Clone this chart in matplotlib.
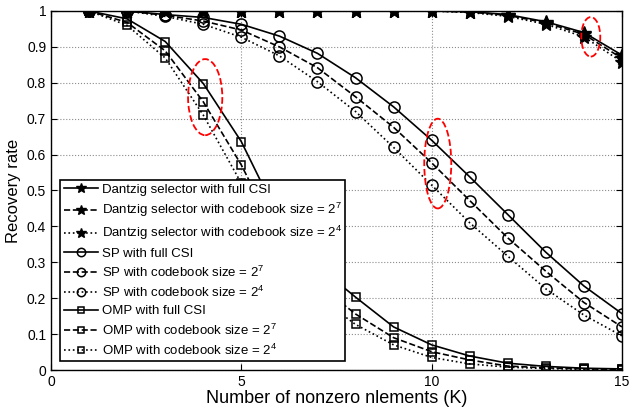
import numpy as np
import matplotlib.pyplot as plt
from matplotlib.patches import Ellipse

plt.rcParams['font.family'] = ['Liberation Sans', 'DejaVu Sans']
plt.rcParams['mathtext.fontset'] = 'custom'
plt.rcParams['mathtext.rm'] = 'Liberation Sans'
plt.rcParams['mathtext.it'] = 'Liberation Sans:italic'

K = np.arange(1, 16)

# Dantzig selector
ds_full = [1, 1, 1, 1, 1, 1, 1, 1, 1, 1, 0.998, 0.99, 0.97, 0.94, 0.877]
ds_cb7 = [1, 1, 1, 1, 1, 1, 1, 1, 1, 1, 0.997, 0.988, 0.967, 0.935, 0.868]
ds_cb4 = [1, 1, 1, 1, 1, 1, 1, 1, 1, 1, 0.996, 0.985, 0.963, 0.928, 0.858]

# subspace pursuit
sp_full = [1, 1, 0.99, 0.982, 0.963, 0.93, 0.882, 0.814, 0.733, 0.64, 0.538, 0.433, 0.328, 0.234, 0.157]
sp_cb7 = [1, 1, 0.988, 0.972, 0.947, 0.90, 0.842, 0.761, 0.676, 0.577, 0.472, 0.368, 0.275, 0.188, 0.12]
sp_cb4 = [1, 1, 0.985, 0.963, 0.927, 0.875, 0.803, 0.72, 0.62, 0.515, 0.41, 0.317, 0.226, 0.153, 0.095]

# OMP
omp_full = [1, 0.978, 0.915, 0.798, 0.636, 0.42, 0.29, 0.203, 0.12, 0.07, 0.039, 0.019, 0.01, 0.005, 0.003]
omp_cb7 = [1, 0.968, 0.889, 0.747, 0.571, 0.36, 0.24, 0.156, 0.09, 0.051, 0.028, 0.011, 0.006, 0.003, 0.002]
omp_cb4 = [1, 0.96, 0.869, 0.71, 0.52, 0.32, 0.205, 0.127, 0.07, 0.035, 0.017, 0.008, 0.004, 0.002, 0.001]

fig = plt.figure(figsize=(6.33, 4.13), dpi=100)
ax = fig.add_axes([0.0806, 0.1041, 0.902, 0.8693])

star = dict(marker='*', markersize=10, markerfacecolor='k', markeredgecolor='k')
circ = dict(marker='o', markersize=8, markerfacecolor='none', markeredgecolor='k', markeredgewidth=1.1)
sq = dict(marker='s', markersize=6, markerfacecolor='none', markeredgecolor='k', markeredgewidth=1.1)

ax.plot(K, ds_full, 'k-', lw=1.2, label='Dantzig selector with full CSI', **star)
ax.plot(K, ds_cb7, 'k--', lw=1.2, label='Dantzig selector with codebook size = $2^7$', **star)
ax.plot(K, ds_cb4, 'k:', lw=1.2, label='Dantzig selector with codebook size = $2^4$', **star)
ax.plot(K, sp_full, 'k-', lw=1.2, label='SP with full CSI', **circ)
ax.plot(K, sp_cb7, 'k--', lw=1.2, label='SP with codebook size = $2^7$', **circ)
ax.plot(K, sp_cb4, 'k:', lw=1.2, label='SP with codebook size = $2^4$', **circ)
ax.plot(K, omp_full, 'k-', lw=1.2, label='OMP with full CSI', **sq)
ax.plot(K, omp_cb7, 'k--', lw=1.2, label='OMP with codebook size = $2^7$', **sq)
ax.plot(K, omp_cb4, 'k:', lw=1.2, label='OMP with codebook size = $2^4$', **sq)

# highlight rings
for cx, cy, w, h in [(4.05, 0.76, 0.9, 0.212), (10.16, 0.575, 0.71, 0.25), (14.18, 0.928, 0.5, 0.11)]:
    ax.add_patch(Ellipse((cx, cy), w, h, fill=False, edgecolor='red', ls='--', lw=1.3, zorder=5))

ax.set_xlim(0, 15)
ax.set_ylim(0, 1)
ax.set_xticks([0, 5, 10, 15])
ax.set_yticks(np.arange(0, 1.01, 0.1))
ax.set_yticklabels(['0', '0.1', '0.2', '0.3', '0.4', '0.5', '0.6', '0.7', '0.8', '0.9', '1'])
ax.tick_params(direction='in', labelsize=10, top=True, right=True, length=4)
ax.grid(True, ls=':', color='0.55', lw=0.8)
for s in ax.spines.values():
    s.set_linewidth(1.0)

ax.set_xlabel('Number of nonzero nlements (K)', fontsize=13, labelpad=1)
ax.set_ylabel('Recovery rate', fontsize=12, labelpad=4)

leg = ax.legend(loc='upper left', bbox_to_anchor=(0.0165, 0.528), fontsize=9.5, numpoints=1,
                markerscale=0.75, handlelength=2.6, handletextpad=0.3, labelspacing=0.38,
                borderpad=0.25, fancybox=False, framealpha=1, edgecolor='k', borderaxespad=0)
leg.get_frame().set_linewidth(1.2)
leg.set_zorder(10)

fig.savefig('out.png', dpi=100)
